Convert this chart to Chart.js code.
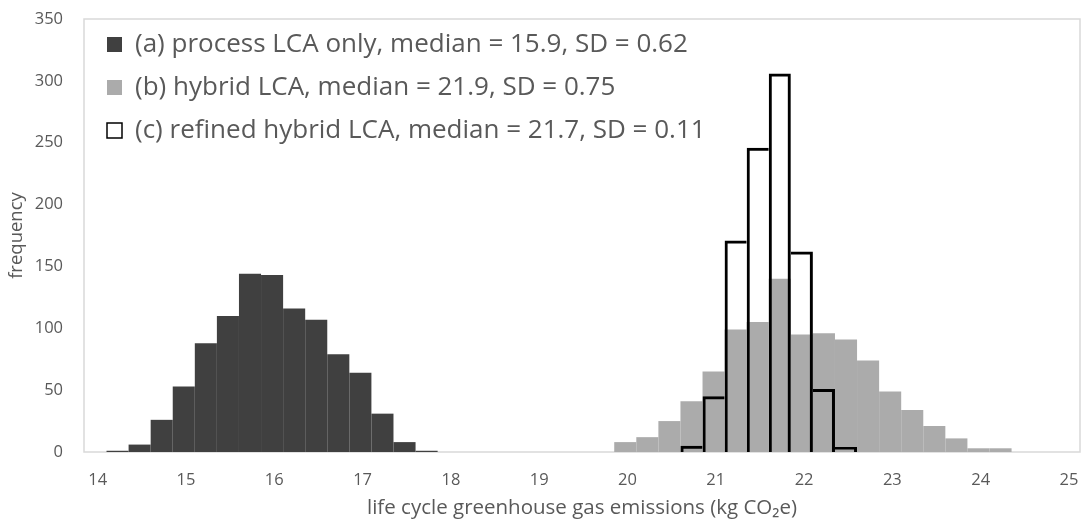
<!DOCTYPE html>
<html>
<head>
<meta charset="utf-8">
<title>Life cycle GHG emissions histogram</title>
<script src="https://cdn.jsdelivr.net/npm/chart.js@4.4.1/dist/chart.umd.min.js"></script>
<style>
  html, body { margin: 0; padding: 0; background: #fff; }
  #wrap { width: 1081px; height: 523px; }
</style>
</head>
<body>
<div id="wrap"><canvas id="lcaChart"></canvas></div>
<script>
// bin centres in kg CO2e (bins are 0.25 wide) and counts per bin
const processBins = [14.225, 14.475, 14.725, 14.975, 15.225, 15.475, 15.725, 15.975, 16.225, 16.475, 16.725, 16.975, 17.225, 17.475, 17.725];
const processCounts = [1, 6, 26, 53, 88, 110, 144, 143, 116, 107, 79, 64, 31, 8, 1];

const hybridBins = [19.975, 20.225, 20.475, 20.725, 20.975, 21.225, 21.475, 21.725, 21.975, 22.225, 22.475, 22.725, 22.975, 23.225, 23.475, 23.725, 23.975, 24.225];
const hybridCounts = [8, 12, 25, 41, 65, 99, 105, 140, 95, 96, 91, 74, 49, 34, 21, 11, 3, 3];

const refinedBins = [20.725, 20.975, 21.225, 21.475, 21.725, 21.975, 22.225, 22.475];
const refinedCounts = [5, 45, 171, 246, 306, 162, 51, 4];

const seriesLabels = [
  '(a) process LCA only, median = 15.9, SD = 0.62',
  '(b) hybrid LCA, median = 21.9, SD = 0.75',
  '(c) refined hybrid LCA, median = 21.7, SD = 0.11'
];
const xTicks = [14, 15, 16, 17, 18, 19, 20, 21, 22, 23, 24, 25];
const yTicks = [0, 50, 100, 150, 200, 250, 300, 350];

const textGrey = '#595959';
Chart.defaults.font.family = '"Open Sans", Lato, sans-serif';
Chart.defaults.color = textGrey;

function toPoints(bins, counts) {
  return bins.map((b, i) => ({ x: b, y: counts[i] }));
}

// outline bars: a shared edge is drawn once, by the taller of the two bars
function refinedBorder(ctx) {
  if (ctx.type !== 'data') return 3;
  const i = ctx.dataIndex;
  const v = refinedCounts[i];
  const left = i > 0 ? refinedCounts[i - 1] : 0;
  const right = i < refinedCounts.length - 1 ? refinedCounts[i + 1] : 0;
  return { top: 3, bottom: 0, left: v >= left ? 3 : 0, right: v > right ? 3 : 0 };
}

// light grey box round the plot area
const plotFrame = {
  id: 'plotFrame',
  beforeDatasetsDraw(chart) {
    const { ctx, chartArea } = chart;
    ctx.save();
    ctx.strokeStyle = '#d9d9d9';
    ctx.lineWidth = 1.5;
    ctx.strokeRect(chartArea.left, chartArea.top, chartArea.right - chartArea.left, chartArea.bottom - chartArea.top);
    ctx.restore();
  }
};

// the in-plot legend sits a little lower and to the right of where chart.js puts it
const legendNudge = {
  id: 'legendNudge',
  afterLayout(chart) {
    chart.legend.left += 6;
    chart.legend.top += 14.5;
  }
};

function noEdgePadding(scale) {
  scale.paddingTop = 0;
  scale.paddingBottom = 0;
  scale.paddingLeft = 0;
  scale.paddingRight = 0;
}

new Chart(document.getElementById('lcaChart'), {
  type: 'bar',
  data: {
    datasets: [
      {
        label: seriesLabels[0],
        data: toPoints(processBins, processCounts),
        backgroundColor: '#404040',
        borderWidth: 0,
        order: 1
      },
      {
        label: seriesLabels[1],
        data: toPoints(hybridBins, hybridCounts),
        backgroundColor: '#ababab',
        borderWidth: 0,
        order: 2
      },
      {
        label: seriesLabels[2],
        data: toPoints(refinedBins, refinedCounts),
        backgroundColor: 'rgba(0,0,0,0)',
        borderColor: '#000000',
        borderWidth: refinedBorder,
        order: 0
      }
    ]
  },
  options: {
    responsive: true,
    maintainAspectRatio: false,
    animation: false,
    datasets: {
      bar: { grouped: false, barPercentage: 1, categoryPercentage: 1, inflateAmount: 0 }
    },
    layout: { padding: { top: 19, right: 1, left: 0, bottom: 0 } },
    plugins: {
      tooltip: { enabled: false },
      legend: {
        position: 'chartArea',
        align: 'start',
        labels: {
          boxWidth: 15,
          boxHeight: 15,
          padding: 17,
          color: textGrey,
          font: { size: 26 },
          sort: (a, b) => a.datasetIndex - b.datasetIndex
        }
      }
    },
    scales: {
      x: {
        type: 'linear',
        offset: false,
        min: 13.845,
        max: 25.125,
        grid: { display: false, drawTicks: false },
        border: { display: false },
        afterBuildTicks: (scale) => { scale.ticks = xTicks.map(v => ({ value: v })); },
        afterFit: (scale) => { scale.height = 71; noEdgePadding(scale); },
        ticks: { autoSkip: false, maxRotation: 0, padding: 18, color: textGrey, font: { size: 16.5 } },
        title: {
          display: true,
          text: 'life cycle greenhouse gas emissions (kg CO₂e)',
          color: textGrey,
          font: { size: 20.5 },
          padding: { top: 0, bottom: 3 }
        }
      },
      y: {
        min: 0,
        max: 350,
        grid: { display: false, drawTicks: false },
        border: { display: false },
        afterBuildTicks: (scale) => { scale.ticks = yTicks.map(v => ({ value: v })); },
        afterFit: (scale) => { scale.width = 84; noEdgePadding(scale); },
        ticks: { padding: 21, color: textGrey, font: { size: 16.5 } },
        title: {
          display: true,
          text: 'frequency',
          color: textGrey,
          font: { size: 18.5 },
          padding: { top: 6, bottom: 0 }
        }
      }
    }
  },
  plugins: [plotFrame, legendNudge]
});
</script>
</body>
</html>
